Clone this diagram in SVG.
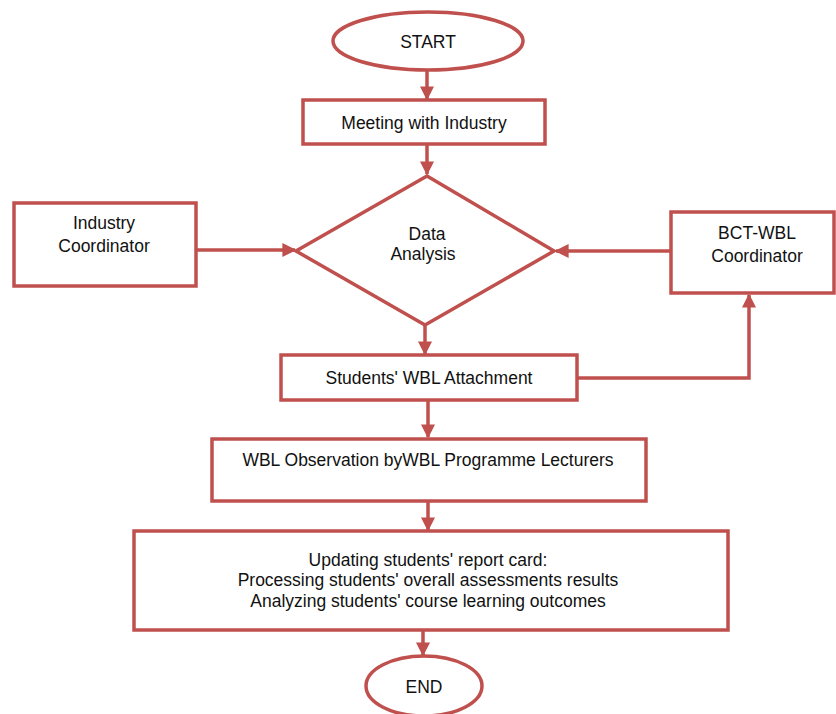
<svg xmlns="http://www.w3.org/2000/svg" width="836" height="714" viewBox="0 0 836 714">
<style>
.s{fill:#fff;stroke:#c0504d;stroke-width:3.5}
.c{fill:none;stroke:#c0504d;stroke-width:3.5}
text{font-family:"Liberation Sans",Arial,sans-serif;font-size:17.5px;fill:#111;text-anchor:middle}
</style>
<defs>
<marker id="a" markerWidth="4" markerHeight="4" refX="3.6" refY="2" orient="auto" markerUnits="strokeWidth">
<path d="M0,0 L4,2 L0,4 z" fill="#c0504d"/>
</marker>
</defs>
<rect width="836" height="714" fill="#fff"/>
<g id="connectors">
<line class="c" x1="427" y1="71" x2="427" y2="99" marker-end="url(#a)"/>
<line class="c" x1="427" y1="144" x2="427" y2="174" marker-end="url(#a)"/>
<line class="c" x1="196" y1="250" x2="295" y2="250" marker-end="url(#a)"/>
<line class="c" x1="671" y1="251" x2="556" y2="251" marker-end="url(#a)"/>
<line class="c" x1="425" y1="325" x2="425" y2="354" marker-end="url(#a)"/>
<polyline class="c" points="577,378 749,378 749,295" marker-end="url(#a)"/>
<line class="c" x1="428" y1="400" x2="428" y2="437" marker-end="url(#a)"/>
<line class="c" x1="428" y1="501" x2="428" y2="530" marker-end="url(#a)"/>
<line class="c" x1="423" y1="630" x2="423" y2="655" marker-end="url(#a)"/>
</g>
<g id="start">
<ellipse class="s" cx="428" cy="41" rx="95" ry="29"/>
<text x="428" y="48">START</text>
</g>
<g id="meeting">
<rect class="s" x="303" y="100" width="242" height="44"/>
<text x="424" y="129">Meeting with Industry</text>
</g>
<g id="data-analysis">
<polygon class="s" points="427,176 554,251 425,325 296,251"/>
<text x="427" y="240">Data</text>
<text x="423" y="260">Analysis</text>
</g>
<g id="industry-coordinator">
<rect class="s" x="14" y="203" width="182" height="83"/>
<text x="104" y="229">Industry</text>
<text x="104" y="252">Coordinator</text>
</g>
<g id="bct-wbl-coordinator">
<rect class="s" x="671" y="212" width="163" height="81"/>
<text x="757" y="239">BCT-WBL</text>
<text x="757" y="262">Coordinator</text>
</g>
<g id="attachment">
<rect class="s" x="281" y="355" width="296" height="45"/>
<text x="429" y="384">Students' WBL Attachment</text>
</g>
<g id="observation">
<rect class="s" x="212" y="439" width="434" height="62"/>
<text x="428" y="466">WBL Observation byWBL Programme Lecturers</text>
</g>
<g id="updating">
<rect class="s" x="134" y="531" width="594" height="99"/>
<text x="428" y="566">Updating students' report card:</text>
<text x="428" y="586">Processing students' overall assessments results</text>
<text x="428" y="607">Analyzing students' course learning outcomes</text>
</g>
<g id="end">
<ellipse class="s" cx="424" cy="686" rx="58" ry="30"/>
<text x="424" y="693">END</text>
</g>
</svg>
